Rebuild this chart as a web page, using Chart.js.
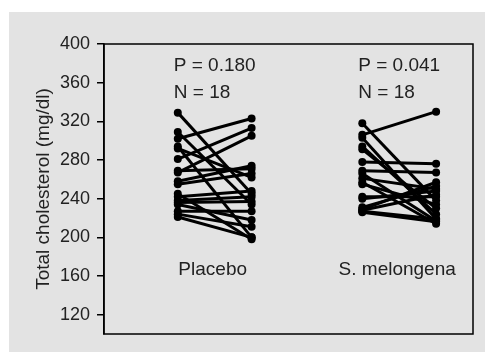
<!DOCTYPE html>
<html>
<head>
<meta charset="utf-8">
<script src="https://cdn.jsdelivr.net/npm/chart.js@4"></script>
<style>
  body { margin: 0; background: #fff; }
  #wrap { position: absolute; left: 9px; top: 12px; width: 476px; height: 340px; background: #e3e3e3; }
</style>
</head>
<body>
<div id="wrap"><canvas id="myChart" width="476" height="340"></canvas></div>
<script>
// データ (Total cholesterol, mg/dl) 前 → 後
const groups = ["Placebo", "S. melongena"];
const pLabels = ["P = 0.180", "P = 0.041"];
const nLabels = ["N = 18", "N = 18"];
const placeboBefore = [329, 309, 302, 294, 292, 281, 269, 267, 258, 255, 245, 242, 238, 236, 234, 227, 224, 221];
const placeboAfter  = [245, 234, 323, 200, 262, 313, 271, 305, 274, 266, 198, 248, 242, 237, 218, 227, 211, 200];
const melongenaBefore = [318, 306, 303, 294, 291, 278, 269, 266, 261, 257, 255, 242, 240, 231, 229, 228, 227, 226];
const melongenaAfter  = [238, 330, 219, 224, 230, 276, 267, 217, 250, 214, 234, 242, 248, 253, 257, 244, 219, 216];
const yTicks = [120, 160, 200, 240, 280, 320, 360, 400];

// 各グループの x 位置 (前, 後)
const groupX = [[1, 2], [3.5, 4.5]];
const series = [[placeboBefore, placeboAfter], [melongenaBefore, melongenaAfter]];

const datasets = [];
series.forEach((s, g) => {
  s[0].forEach((v, i) => {
    datasets.push({
      data: [{ x: groupX[g][0], y: v }, { x: groupX[g][1], y: s[1][i] }],
      borderColor: "#000",
      backgroundColor: "#000",
      borderWidth: 3,
      pointRadius: 4,
      pointBorderWidth: 0,
    });
  });
});

const font = "Liberation Sans, Arial, sans-serif";

// 枠線とテキスト
const boxPlugin = {
  id: "box",
  afterDraw(chart) {
    const ctx = chart.ctx;
    const a = chart.chartArea;
    const xs = chart.scales.x;
    const ys = chart.scales.y;
    ctx.save();
    ctx.strokeStyle = "#000";
    ctx.lineWidth = 1.5;
    ctx.strokeRect(a.left, a.top, a.right - a.left, a.bottom - a.top);

    ctx.fillStyle = "#222";
    ctx.font = "19px " + font;
    ctx.textBaseline = "middle";
    groups.forEach((name, g) => {
      const cx = xs.getPixelForValue((groupX[g][0] + groupX[g][1]) / 2);
      ctx.textAlign = "center";
      ctx.fillText(name, cx - 2, ys.getPixelForValue(166));
      const w = ctx.measureText(pLabels[g]).width;
      ctx.textAlign = "left";
      ctx.fillText(pLabels[g], cx - w / 2, ys.getPixelForValue(378));
      ctx.fillText(nLabels[g], cx - w / 2, ys.getPixelForValue(350));
    });
    ctx.restore();
  },
};

const ctx = document.getElementById("myChart").getContext("2d");
const chart = new Chart(ctx, {
  type: "line",
  data: { datasets: datasets },
  options: {
    responsive: false,
    animation: false,
    layout: { padding: { top: 32, right: 12, bottom: 18, left: 0 } },
    plugins: { legend: { display: false }, tooltip: { enabled: false } },
    scales: {
      x: { type: "linear", min: 0, max: 5, display: false },
      y: {
        min: 100,
        max: 400,
        afterBuildTicks: (scale) => {
          scale.ticks = yTicks.map((v) => ({ value: v }));
        },
        afterFit: (scale) => {
          scale.width = 95;
        },
        border: { display: true, color: "#000", width: 1.5 },
        grid: { drawOnChartArea: false, drawTicks: true, tickLength: 7, color: "#000", lineWidth: 1.5 },
        ticks: { color: "#222", padding: 7, font: { family: font, size: 18 } },
        title: {
          display: true,
          text: "Total cholesterol (mg/dl)",
          color: "#222",
          font: { family: font, size: 19 },
          padding: { top: 23, bottom: 0 },
        },
      },
    },
  },
  plugins: [boxPlugin],
});
</script>
</body>
</html>
